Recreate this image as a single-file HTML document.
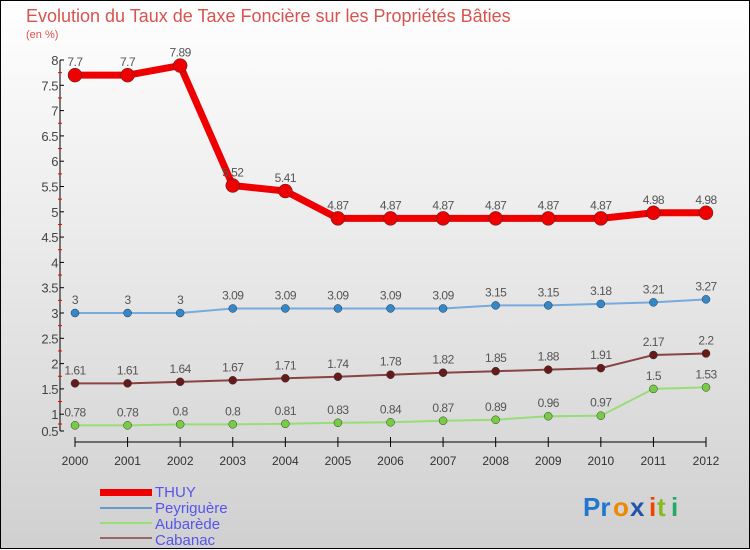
<!DOCTYPE html>
<html><head><meta charset="utf-8"><style>
body{margin:0;width:750px;height:550px;overflow:hidden;font-family:"Liberation Sans",sans-serif}
svg{display:block}
</style></head><body>
<svg width="750" height="550" xmlns="http://www.w3.org/2000/svg">
<defs><linearGradient id="bg" x1="0" y1="0" x2="0" y2="1"><stop offset="0" stop-color="#ffffff"/><stop offset="1" stop-color="#d0d0d0"/></linearGradient></defs>
<rect x="0.5" y="0.5" width="749" height="548" fill="url(#bg)" stroke="#000"/>
<text x="26" y="22" font-size="18" fill="#d9534f">Evolution du Taux de Taxe Foncière sur les Propriétés Bâties</text>
<text x="26" y="38" font-size="11" fill="#d9534f">(en %)</text>
<g id="axes"></g><g id="series"></g>
<g>
<rect x="100" y="489" width="52" height="7" fill="#e00"/>
<text x="155" y="497" font-size="15" fill="#5555ee">THUY</text>
<line x1="100" y1="508" x2="152" y2="508" stroke="#6699cc" stroke-width="2"/>
<text x="155" y="513" font-size="15" fill="#5555ee">Peyriguère</text>
<line x1="100" y1="523" x2="152" y2="523" stroke="#99dd77" stroke-width="2"/>
<text x="155" y="529" font-size="15" fill="#5555ee">Aubarède</text>
<line x1="100" y1="538" x2="152" y2="538" stroke="#996666" stroke-width="2"/>
<text x="155" y="545" font-size="15" fill="#5555ee">Cabanac</text>
</g>
<g font-size="26" font-weight="bold">
<text x="583" y="516" fill="#2277cc">Pr</text><text x="613" y="516" fill="#ee8800">o</text><text x="630" y="516" fill="#2255aa">x</text><text x="649" y="516" fill="#ee4400">i</text><text x="657" y="516" fill="#88bb22">t</text><text x="671" y="516" fill="#22aa66">i</text>
</g>
</svg>
<script>
const years=[2000,2001,2002,2003,2004,2005,2006,2007,2008,2009,2010,2011,2012];
const yTicks=[1,1.5,2,2.5,3,3.5,4,4.5,5,5.5,6,6.5,7,7.5,8];
const thuy=[7.7,7.7,7.89,5.52,5.41,4.87,4.87,4.87,4.87,4.87,4.87,4.98,4.98];
const peyriguere=[3,3,3,3.09,3.09,3.09,3.09,3.09,3.15,3.15,3.18,3.21,3.27];
const aubarede=[0.78,0.78,0.8,0.8,0.81,0.83,0.84,0.87,0.89,0.96,0.97,1.5,1.53];
const cabanac=[1.61,1.61,1.64,1.67,1.71,1.74,1.78,1.82,1.85,1.88,1.91,2.17,2.2];
const NS="http://www.w3.org/2000/svg";
const X=i=>75+i*(706-75)/12;
const Y=v=>313-(v-3)*50.6;
function mk(p,t,a){const e=document.createElementNS(NS,t);for(const k in a)e.setAttribute(k,a[k]);p.appendChild(e);return e;}
const ax=document.getElementById('axes');
const yl=mk(ax,'line',{x1:60,y1:Y(8),x2:60,y2:431,stroke:'#000'});


const xl=mk(ax,'line',{x1:X(0),y1:442,x2:X(12),y2:442,stroke:'#000'});


function ylab(txt,y){
 mk(ax,'line',{x1:60,y1:y,x2:64,y2:y,stroke:'#000'});
 const t=mk(ax,'text',{x:58,y:y+5,'font-size':13,fill:'#444','text-anchor':'end','letter-spacing':'-0.5'});
 t.textContent=txt;
 
 
}
yTicks.forEach(v=>{
 ylab(String(v),Y(v));
 if(v>1) mk(ax,'line',{x1:58,y1:Y(v-0.25),x2:62,y2:Y(v-0.25),stroke:'#e00'});
});
ylab('0.5',431);
mk(ax,'line',{x1:58,y1:424,x2:62,y2:424,stroke:'#e00'});
years.forEach((yr,i)=>{
 mk(ax,'line',{x1:X(i),y1:437,x2:X(i),y2:447,stroke:'#000'});
 const t=mk(ax,'text',{x:X(i),y:465,'font-size':12,fill:'#333','text-anchor':'middle'});
 t.textContent=yr;
 
 
});
const sg=document.getElementById('series');
function draw(name,vals,col,w,r,dot){
 const g=mk(sg,'g',{});
 
 
 mk(g,'polyline',{points:vals.map((v,i)=>X(i)+','+Y(v)).join(' '),fill:'none',stroke:col,'stroke-width':w});
 vals.forEach((v,i)=>{
  const c=mk(g,'circle',{cx:X(i),cy:Y(v),r:r,fill:dot,stroke:'#333','stroke-width':0.5});
  
  
  const t=mk(g,'text',{x:X(i),y:Y(v)-9,'font-size':12,fill:'#555','text-anchor':'middle','letter-spacing':'-0.5'});
  t.textContent=String(v);
  
  
 });
}
draw('aubarede',aubarede,'#99dd77',2,4,'#77cc44');
draw('cabanac',cabanac,'#884444',2,4,'#661a1a');
draw('peyriguere',peyriguere,'#77aadd',2,4,'#3388cc');
draw('thuy',thuy,'#ee0000',7,7,'#ee0000');
</script>
</body></html>
